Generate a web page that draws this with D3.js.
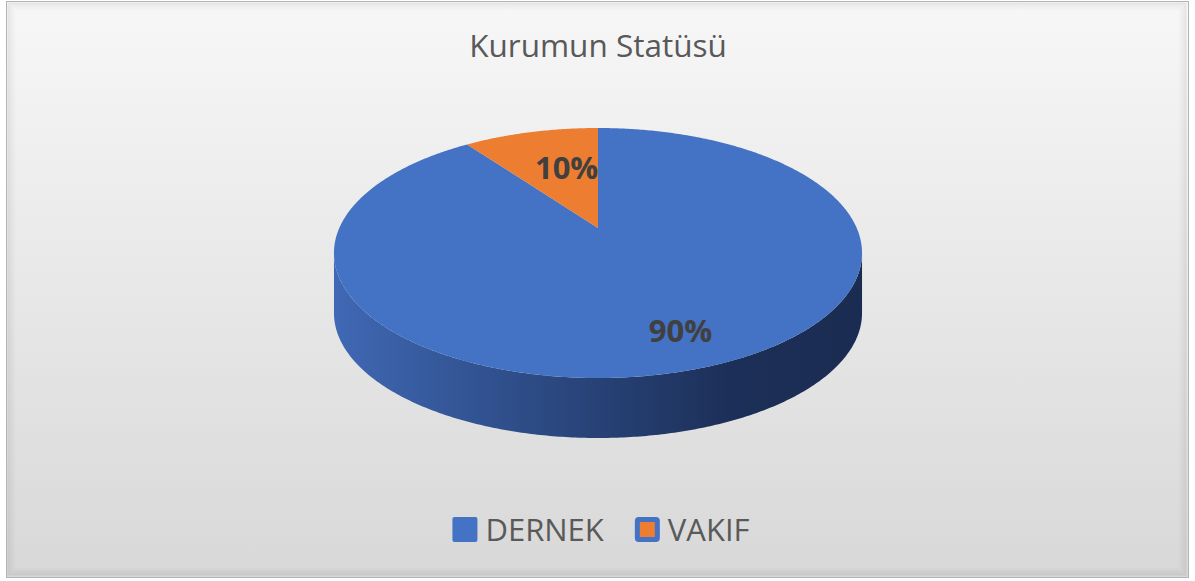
<!DOCTYPE html>
<html>
<head>
<meta charset="utf-8">
<script src="https://cdn.jsdelivr.net/npm/d3@7"></script>
<style>
  body { margin: 0; background: #ffffff; }
  text { font-family: "Open Sans", sans-serif; }
</style>
</head>
<body>
<div id="chart"></div>
<script>
// data
var categories = ["DERNEK", "VAKIF"];
var values = [90, 10];
var colors = ["#4472c4", "#ed7d31"];
var title = "Kurumun Statüsü";

var width = 1195, height = 581;

var svg = d3.select("#chart")
    .append("svg")
    .attr("width", width)
    .attr("height", height);

var defs = svg.append("defs");

// background gradient
var bg = defs.append("linearGradient")
    .attr("id", "bg")
    .attr("x1", 0).attr("y1", 0).attr("x2", 0).attr("y2", 1);
bg.append("stop").attr("offset", "0%").attr("stop-color", "#f7f7f7");
bg.append("stop").attr("offset", "100%").attr("stop-color", "#d8d8d8");

// side wall gradient
var side = defs.append("linearGradient")
    .attr("id", "side")
    .attr("x1", 0).attr("y1", 0).attr("x2", 1).attr("y2", 0);
side.append("stop").attr("offset", "0%").attr("stop-color", "#4068b4");
side.append("stop").attr("offset", "35%").attr("stop-color", "#2e4d88");
side.append("stop").attr("offset", "75%").attr("stop-color", "#1c2f58");
side.append("stop").attr("offset", "100%").attr("stop-color", "#1b2c52");

// frame
svg.append("rect")
    .attr("x", 6.5).attr("y", 1.5)
    .attr("width", 1182).attr("height", 576)
    .attr("fill", "url(#bg)")
    .attr("stroke", "#b4b4b4");

// inner shadow, a few stacked strokes
d3.range(1, 9).forEach(function(i) {
    svg.append("rect")
        .attr("x", 7 + i).attr("y", 2 + i)
        .attr("width", 1180 - 2 * i).attr("height", 574 - 2 * i)
        .attr("fill", "none")
        .attr("stroke", "#000")
        .attr("stroke-opacity", 0.07 * (9 - i) / 8);
});

// title
svg.append("text")
    .attr("x", 598)
    .attr("y", 57)
    .attr("text-anchor", "middle")
    .attr("font-size", 31.5)
    .attr("fill", "#595959")
    .text(title);

// 3d pie with a bit of perspective
var cx = 598, cy = 228, rx = 258.7, ry = 120, persp = 0.2, depth = 60;

var pie = d3.pie().sort(null).value(function(d) { return d; });
var arcs = pie(values);
var total = d3.sum(values);

// angle 0 = far side (12 o'clock), clockwise
function pt(a, k) {
    k = k === undefined ? 1 : k;
    var u = k * Math.sin(a), v = k * Math.cos(a);
    var s = 1 / (1 + persp * v);
    return [cx + rx * u * s, cy - ry * v * s];
}

function rimPoints(a0, a1, dy) {
    var n = Math.max(2, Math.ceil((a1 - a0) / 0.01));
    return d3.range(n + 1).map(function(j) {
        var p = pt(a0 + (a1 - a0) * j / n);
        return [p[0], p[1] + (dy || 0)];
    });
}

var line = d3.line();
var g = svg.append("g");

// side walls, only the part facing the viewer
var sideStart = Math.PI - Math.acos(persp);
var sideEnd = Math.PI + Math.acos(persp);
arcs.forEach(function(d, i) {
    var s = Math.max(d.startAngle, sideStart);
    var e = Math.min(d.endAngle, sideEnd);
    if (e <= s) return;
    var pts = rimPoints(s, e, 0).concat(rimPoints(s, e, depth).reverse());
    g.append("path")
        .attr("d", line(pts) + "Z")
        .attr("fill", i === 0 ? "url(#side)" : d3.color(colors[i]).darker(1.2));
});

// top faces
arcs.forEach(function(d, i) {
    var pts = [pt(0, 0)].concat(rimPoints(d.startAngle, d.endAngle, 0));
    g.append("path")
        .attr("d", line(pts) + "Z")
        .attr("fill", colors[i]);
});

// labels
arcs.forEach(function(d) {
    var mid = (d.startAngle + d.endAngle) / 2;
    var p = pt(mid, 0.7);
    svg.append("text")
        .attr("x", p[0] + 18)
        .attr("y", p[1] + 22)
        .attr("text-anchor", "middle")
        .attr("font-size", 31)
        .attr("font-weight", "bold")
        .attr("fill", "#404040")
        .text(d3.format(".0%")(d.value / total));
});

// legend
var legend = svg.append("g");
var lx = 0;
categories.forEach(function(c, i) {
    var item = legend.append("g").attr("transform", "translate(" + lx + ",0)");
    if (i === 0) {
        item.append("rect")
            .attr("x", 0).attr("y", 0)
            .attr("width", 25).attr("height", 25)
            .attr("rx", 2)
            .attr("fill", colors[i]);
    } else {
        item.append("rect")
            .attr("x", 2.5).attr("y", 2.5)
            .attr("width", 20).attr("height", 20)
            .attr("rx", 1.5)
            .attr("fill", colors[i])
            .attr("stroke", colors[0])
            .attr("stroke-width", 5);
    }
    var t = item.append("text")
        .attr("x", 33)
        .attr("y", 24)
        .attr("font-size", 31)
        .attr("fill", "#595959")
        .text(c);
    lx += 33 + t.node().getComputedTextLength() + 31;
});
var lw = lx - 31;
legend.attr("transform", "translate(" + (601 - lw / 2) + ",517)");
</script>
</body>
</html>
